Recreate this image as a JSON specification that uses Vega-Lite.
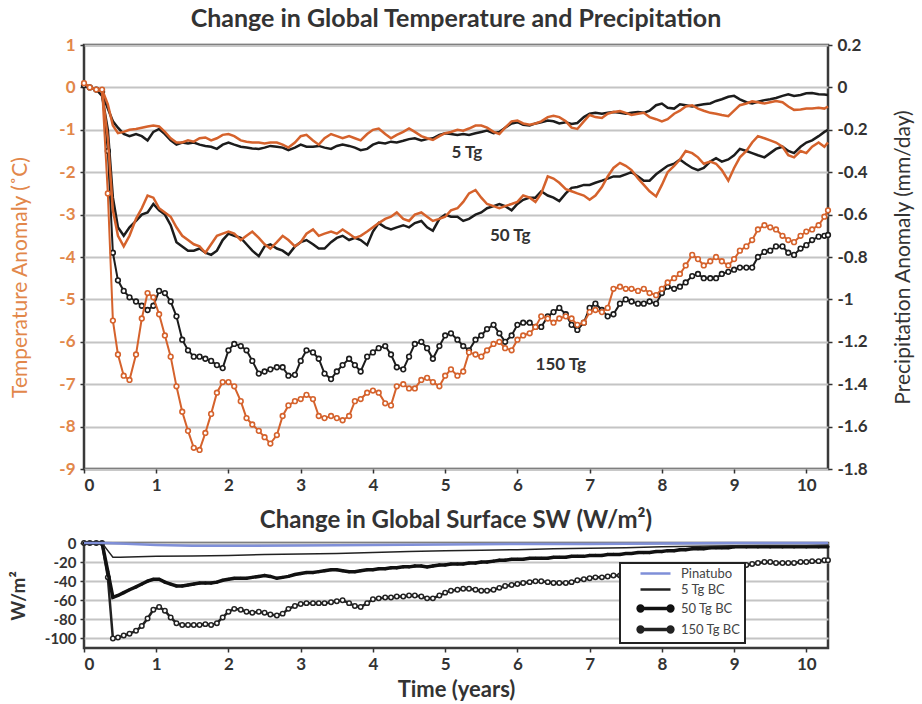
{
"$schema": "https://vega.github.io/schema/vega-lite/v6.json",
"background": "white",
"padding": {"left": 8, "top": 5, "right": 3, "bottom": 3},
"spacing": 12,
"config": {
 "font": "Lato",
 "view": {"stroke": "#3a3a3a", "strokeWidth": 2.5},
 "axis": {"labelFont": "Lato", "titleFont": "Lato", "domain": false, "tickColor": "#333", "tickSize": 4, "tickWidth": 1.5, "labelFontWeight": "bold", "labelFontSize": 16, "labelColor": "#333", "titleColor": "#333", "gridColor": "#c4c4c4", "gridWidth": 2},
 "title": {"font": "Lato", "fontWeight": "bold", "color": "#333"}
},
"datasets": {
 "T5": [{"t":0,"v":0.1},{"t":0.08,"v":0},{"t":0.17,"v":-0.05},{"t":0.25,"v":-0.05},{"t":0.33,"v":-0.4},{"t":0.4,"v":-0.9},{"t":0.47,"v":-1.08},{"t":0.55,"v":-1.05},{"t":0.63,"v":-1},{"t":0.72,"v":-0.98},{"t":0.8,"v":-0.95},{"t":0.88,"v":-0.92},{"t":0.96,"v":-0.9},{"t":1.04,"v":-0.92},{"t":1.12,"v":-1.05},{"t":1.2,"v":-1.2},{"t":1.28,"v":-1.3},{"t":1.36,"v":-1.3},{"t":1.44,"v":-1.25},{"t":1.52,"v":-1.28},{"t":1.6,"v":-1.2},{"t":1.68,"v":-1.18},{"t":1.76,"v":-1.25},{"t":1.84,"v":-1.2},{"t":1.92,"v":-1.12},{"t":2,"v":-1.1},{"t":2.08,"v":-1.15},{"t":2.17,"v":-1.25},{"t":2.25,"v":-1.28},{"t":2.33,"v":-1.3},{"t":2.42,"v":-1.3},{"t":2.5,"v":-1.32},{"t":2.58,"v":-1.3},{"t":2.67,"v":-1.3},{"t":2.75,"v":-1.35},{"t":2.83,"v":-1.42},{"t":2.92,"v":-1.3},{"t":3,"v":-1.15},{"t":3.08,"v":-1.12},{"t":3.17,"v":-1.25},{"t":3.25,"v":-1.35},{"t":3.33,"v":-1.2},{"t":3.42,"v":-1.1},{"t":3.5,"v":-1.15},{"t":3.58,"v":-1.2},{"t":3.67,"v":-1.15},{"t":3.75,"v":-1.2},{"t":3.83,"v":-1.25},{"t":3.92,"v":-1.1},{"t":4,"v":-1},{"t":4.08,"v":-0.97},{"t":4.17,"v":-1.1},{"t":4.25,"v":-1.2},{"t":4.33,"v":-1.12},{"t":4.42,"v":-1.05},{"t":4.5,"v":-0.97},{"t":4.58,"v":-1.05},{"t":4.67,"v":-1.15},{"t":4.75,"v":-1.2},{"t":4.83,"v":-1.24},{"t":4.92,"v":-1.15},{"t":5,"v":-1.08},{"t":5.08,"v":-1.05},{"t":5.17,"v":-1},{"t":5.25,"v":-1.02},{"t":5.33,"v":-0.97},{"t":5.42,"v":-0.9},{"t":5.5,"v":-0.9},{"t":5.58,"v":-0.95},{"t":5.67,"v":-1.05},{"t":5.75,"v":-1.1},{"t":5.83,"v":-0.95},{"t":5.92,"v":-0.8},{"t":6,"v":-0.78},{"t":6.08,"v":-0.85},{"t":6.17,"v":-0.88},{"t":6.25,"v":-0.85},{"t":6.33,"v":-0.8},{"t":6.42,"v":-0.7},{"t":6.5,"v":-0.67},{"t":6.58,"v":-0.7},{"t":6.67,"v":-0.8},{"t":6.75,"v":-0.95},{"t":6.83,"v":-0.98},{"t":6.92,"v":-0.8},{"t":7,"v":-0.65},{"t":7.08,"v":-0.7},{"t":7.17,"v":-0.72},{"t":7.25,"v":-0.62},{"t":7.33,"v":-0.58},{"t":7.42,"v":-0.56},{"t":7.5,"v":-0.6},{"t":7.58,"v":-0.65},{"t":7.67,"v":-0.62},{"t":7.75,"v":-0.6},{"t":7.83,"v":-0.7},{"t":7.92,"v":-0.75},{"t":8,"v":-0.8},{"t":8.08,"v":-0.75},{"t":8.17,"v":-0.62},{"t":8.25,"v":-0.55},{"t":8.33,"v":-0.45},{"t":8.42,"v":-0.42},{"t":8.5,"v":-0.5},{"t":8.58,"v":-0.55},{"t":8.67,"v":-0.6},{"t":8.75,"v":-0.62},{"t":8.83,"v":-0.65},{"t":8.92,"v":-0.68},{"t":9,"v":-0.55},{"t":9.08,"v":-0.42},{"t":9.17,"v":-0.38},{"t":9.25,"v":-0.33},{"t":9.33,"v":-0.35},{"t":9.42,"v":-0.38},{"t":9.5,"v":-0.35},{"t":9.58,"v":-0.32},{"t":9.67,"v":-0.35},{"t":9.75,"v":-0.45},{"t":9.83,"v":-0.53},{"t":9.92,"v":-0.52},{"t":10,"v":-0.5},{"t":10.08,"v":-0.5},{"t":10.17,"v":-0.48},{"t":10.25,"v":-0.5},{"t":10.3,"v":-0.45}],
 "T50": [{"t":0,"v":0.1},{"t":0.08,"v":0},{"t":0.17,"v":-0.05},{"t":0.25,"v":-0.1},{"t":0.33,"v":-1.2},{"t":0.4,"v":-2.9},{"t":0.47,"v":-3.5},{"t":0.55,"v":-3.75},{"t":0.63,"v":-3.5},{"t":0.72,"v":-3.1},{"t":0.8,"v":-2.85},{"t":0.88,"v":-2.55},{"t":0.96,"v":-2.6},{"t":1.04,"v":-2.85},{"t":1.12,"v":-2.95},{"t":1.2,"v":-3.05},{"t":1.28,"v":-3.3},{"t":1.36,"v":-3.5},{"t":1.44,"v":-3.6},{"t":1.52,"v":-3.7},{"t":1.6,"v":-3.75},{"t":1.68,"v":-3.9},{"t":1.76,"v":-3.7},{"t":1.84,"v":-3.5},{"t":1.92,"v":-3.45},{"t":2,"v":-3.4},{"t":2.08,"v":-3.45},{"t":2.17,"v":-3.6},{"t":2.25,"v":-3.5},{"t":2.33,"v":-3.4},{"t":2.42,"v":-3.55},{"t":2.5,"v":-3.7},{"t":2.58,"v":-3.8},{"t":2.67,"v":-3.65},{"t":2.75,"v":-3.5},{"t":2.83,"v":-3.6},{"t":2.92,"v":-3.75},{"t":3,"v":-3.65},{"t":3.08,"v":-3.45},{"t":3.17,"v":-3.35},{"t":3.25,"v":-3.5},{"t":3.33,"v":-3.45},{"t":3.42,"v":-3.4},{"t":3.5,"v":-3.45},{"t":3.58,"v":-3.35},{"t":3.67,"v":-3.45},{"t":3.75,"v":-3.55},{"t":3.83,"v":-3.5},{"t":3.92,"v":-3.4},{"t":4,"v":-3.3},{"t":4.08,"v":-3.2},{"t":4.17,"v":-3.1},{"t":4.25,"v":-3.05},{"t":4.33,"v":-2.95},{"t":4.42,"v":-3.1},{"t":4.5,"v":-3.15},{"t":4.58,"v":-3},{"t":4.67,"v":-2.95},{"t":4.75,"v":-3.05},{"t":4.83,"v":-3.15},{"t":4.92,"v":-3.1},{"t":5,"v":-3.05},{"t":5.08,"v":-2.9},{"t":5.17,"v":-2.85},{"t":5.25,"v":-2.7},{"t":5.33,"v":-2.5},{"t":5.42,"v":-2.42},{"t":5.5,"v":-2.6},{"t":5.58,"v":-2.75},{"t":5.67,"v":-2.8},{"t":5.75,"v":-2.85},{"t":5.83,"v":-2.8},{"t":5.92,"v":-2.75},{"t":6,"v":-2.7},{"t":6.08,"v":-2.55},{"t":6.17,"v":-2.6},{"t":6.25,"v":-2.7},{"t":6.33,"v":-2.5},{"t":6.42,"v":-2.1},{"t":6.5,"v":-2.15},{"t":6.58,"v":-2.25},{"t":6.67,"v":-2.4},{"t":6.75,"v":-2.45},{"t":6.83,"v":-2.5},{"t":6.92,"v":-2.55},{"t":7,"v":-2.65},{"t":7.08,"v":-2.55},{"t":7.17,"v":-2.35},{"t":7.25,"v":-2.1},{"t":7.33,"v":-1.9},{"t":7.42,"v":-1.78},{"t":7.5,"v":-1.85},{"t":7.58,"v":-1.95},{"t":7.67,"v":-2.15},{"t":7.75,"v":-2.3},{"t":7.83,"v":-2.45},{"t":7.92,"v":-2.57},{"t":8,"v":-2.3},{"t":8.08,"v":-2},{"t":8.17,"v":-1.85},{"t":8.25,"v":-1.7},{"t":8.33,"v":-1.5},{"t":8.42,"v":-1.55},{"t":8.5,"v":-1.65},{"t":8.58,"v":-1.8},{"t":8.67,"v":-1.75},{"t":8.75,"v":-1.8},{"t":8.83,"v":-1.95},{"t":8.92,"v":-2.2},{"t":9,"v":-1.9},{"t":9.08,"v":-1.65},{"t":9.17,"v":-1.5},{"t":9.25,"v":-1.3},{"t":9.33,"v":-1.15},{"t":9.42,"v":-1.2},{"t":9.5,"v":-1.25},{"t":9.58,"v":-1.3},{"t":9.67,"v":-1.4},{"t":9.75,"v":-1.6},{"t":9.83,"v":-1.65},{"t":9.92,"v":-1.5},{"t":10,"v":-1.55},{"t":10.08,"v":-1.4},{"t":10.17,"v":-1.3},{"t":10.25,"v":-1.4},{"t":10.3,"v":-1.3}],
 "T150": [{"t":0,"v":0.1},{"t":0.08,"v":0},{"t":0.17,"v":-0.05},{"t":0.25,"v":-0.05},{"t":0.33,"v":-2.5},{"t":0.4,"v":-5.5},{"t":0.47,"v":-6.3},{"t":0.55,"v":-6.8},{"t":0.63,"v":-6.9},{"t":0.72,"v":-6.3},{"t":0.8,"v":-5.45},{"t":0.88,"v":-4.85},{"t":0.96,"v":-4.95},{"t":1.04,"v":-5.35},{"t":1.12,"v":-5.85},{"t":1.2,"v":-6.35},{"t":1.28,"v":-7.05},{"t":1.36,"v":-7.65},{"t":1.44,"v":-8.1},{"t":1.52,"v":-8.5},{"t":1.6,"v":-8.55},{"t":1.68,"v":-8.15},{"t":1.76,"v":-7.7},{"t":1.84,"v":-7.2},{"t":1.92,"v":-6.95},{"t":2,"v":-6.95},{"t":2.08,"v":-7.05},{"t":2.17,"v":-7.4},{"t":2.25,"v":-7.8},{"t":2.33,"v":-7.95},{"t":2.42,"v":-8.1},{"t":2.5,"v":-8.25},{"t":2.58,"v":-8.4},{"t":2.67,"v":-8.2},{"t":2.75,"v":-7.75},{"t":2.83,"v":-7.5},{"t":2.92,"v":-7.4},{"t":3,"v":-7.35},{"t":3.08,"v":-7.25},{"t":3.17,"v":-7.35},{"t":3.25,"v":-7.75},{"t":3.33,"v":-7.8},{"t":3.42,"v":-7.75},{"t":3.5,"v":-7.8},{"t":3.58,"v":-7.85},{"t":3.67,"v":-7.75},{"t":3.75,"v":-7.4},{"t":3.83,"v":-7.35},{"t":3.92,"v":-7.2},{"t":4,"v":-7.15},{"t":4.08,"v":-7.2},{"t":4.17,"v":-7.45},{"t":4.25,"v":-7.5},{"t":4.33,"v":-7.05},{"t":4.42,"v":-7},{"t":4.5,"v":-7.1},{"t":4.58,"v":-7.1},{"t":4.67,"v":-6.9},{"t":4.75,"v":-6.85},{"t":4.83,"v":-6.95},{"t":4.92,"v":-7.05},{"t":5,"v":-6.8},{"t":5.08,"v":-6.65},{"t":5.17,"v":-6.8},{"t":5.25,"v":-6.7},{"t":5.33,"v":-6.25},{"t":5.42,"v":-6.3},{"t":5.5,"v":-6.35},{"t":5.58,"v":-6.2},{"t":5.67,"v":-6.05},{"t":5.75,"v":-6},{"t":5.83,"v":-6.15},{"t":5.92,"v":-6.2},{"t":6,"v":-5.95},{"t":6.08,"v":-5.85},{"t":6.17,"v":-5.8},{"t":6.25,"v":-5.65},{"t":6.33,"v":-5.4},{"t":6.42,"v":-5.45},{"t":6.5,"v":-5.55},{"t":6.58,"v":-5.45},{"t":6.67,"v":-5.4},{"t":6.75,"v":-5.45},{"t":6.83,"v":-5.6},{"t":6.92,"v":-5.55},{"t":7,"v":-5.3},{"t":7.08,"v":-5.25},{"t":7.17,"v":-5.3},{"t":7.25,"v":-5.2},{"t":7.33,"v":-4.75},{"t":7.42,"v":-4.7},{"t":7.5,"v":-4.75},{"t":7.58,"v":-4.75},{"t":7.67,"v":-4.8},{"t":7.75,"v":-4.75},{"t":7.83,"v":-4.85},{"t":7.92,"v":-4.9},{"t":8,"v":-4.75},{"t":8.08,"v":-4.6},{"t":8.17,"v":-4.5},{"t":8.25,"v":-4.4},{"t":8.33,"v":-4.2},{"t":8.42,"v":-3.95},{"t":8.5,"v":-4.05},{"t":8.58,"v":-4.2},{"t":8.67,"v":-4.1},{"t":8.75,"v":-4},{"t":8.83,"v":-4.1},{"t":8.92,"v":-4.2},{"t":9,"v":-4.05},{"t":9.08,"v":-3.85},{"t":9.17,"v":-3.75},{"t":9.25,"v":-3.6},{"t":9.33,"v":-3.35},{"t":9.42,"v":-3.25},{"t":9.5,"v":-3.3},{"t":9.58,"v":-3.35},{"t":9.67,"v":-3.5},{"t":9.75,"v":-3.6},{"t":9.83,"v":-3.65},{"t":9.92,"v":-3.5},{"t":10,"v":-3.4},{"t":10.08,"v":-3.35},{"t":10.17,"v":-3.25},{"t":10.25,"v":-3.05},{"t":10.3,"v":-2.9}],
 "P5": [{"t":0,"p":0.01},{"t":0.08,"p":0},{"t":0.17,"p":-0.01},{"t":0.25,"p":-0.03},{"t":0.33,"p":-0.1},{"t":0.4,"p":-0.16},{"t":0.47,"p":-0.19},{"t":0.55,"p":-0.22},{"t":0.63,"p":-0.23},{"t":0.72,"p":-0.22},{"t":0.8,"p":-0.23},{"t":0.88,"p":-0.25},{"t":0.96,"p":-0.21},{"t":1.04,"p":-0.196},{"t":1.12,"p":-0.22},{"t":1.2,"p":-0.25},{"t":1.28,"p":-0.27},{"t":1.36,"p":-0.26},{"t":1.44,"p":-0.264},{"t":1.52,"p":-0.26},{"t":1.6,"p":-0.27},{"t":1.68,"p":-0.276},{"t":1.76,"p":-0.28},{"t":1.84,"p":-0.29},{"t":1.92,"p":-0.27},{"t":2,"p":-0.26},{"t":2.08,"p":-0.27},{"t":2.17,"p":-0.28},{"t":2.25,"p":-0.284},{"t":2.33,"p":-0.288},{"t":2.42,"p":-0.29},{"t":2.5,"p":-0.284},{"t":2.58,"p":-0.276},{"t":2.67,"p":-0.28},{"t":2.75,"p":-0.284},{"t":2.83,"p":-0.296},{"t":2.92,"p":-0.284},{"t":3,"p":-0.27},{"t":3.08,"p":-0.28},{"t":3.17,"p":-0.28},{"t":3.25,"p":-0.276},{"t":3.33,"p":-0.284},{"t":3.42,"p":-0.29},{"t":3.5,"p":-0.276},{"t":3.58,"p":-0.27},{"t":3.67,"p":-0.276},{"t":3.75,"p":-0.284},{"t":3.83,"p":-0.296},{"t":3.92,"p":-0.29},{"t":4,"p":-0.27},{"t":4.08,"p":-0.26},{"t":4.17,"p":-0.264},{"t":4.25,"p":-0.256},{"t":4.33,"p":-0.26},{"t":4.42,"p":-0.252},{"t":4.5,"p":-0.244},{"t":4.58,"p":-0.24},{"t":4.67,"p":-0.25},{"t":4.75,"p":-0.244},{"t":4.83,"p":-0.24},{"t":4.92,"p":-0.224},{"t":5,"p":-0.216},{"t":5.08,"p":-0.22},{"t":5.17,"p":-0.224},{"t":5.25,"p":-0.22},{"t":5.33,"p":-0.224},{"t":5.42,"p":-0.216},{"t":5.5,"p":-0.21},{"t":5.58,"p":-0.204},{"t":5.67,"p":-0.216},{"t":5.75,"p":-0.21},{"t":5.83,"p":-0.19},{"t":5.92,"p":-0.17},{"t":6,"p":-0.164},{"t":6.08,"p":-0.176},{"t":6.17,"p":-0.18},{"t":6.25,"p":-0.17},{"t":6.33,"p":-0.164},{"t":6.42,"p":-0.156},{"t":6.5,"p":-0.16},{"t":6.58,"p":-0.17},{"t":6.67,"p":-0.164},{"t":6.75,"p":-0.172},{"t":6.83,"p":-0.168},{"t":6.92,"p":-0.14},{"t":7,"p":-0.124},{"t":7.08,"p":-0.12},{"t":7.17,"p":-0.124},{"t":7.25,"p":-0.12},{"t":7.33,"p":-0.116},{"t":7.42,"p":-0.12},{"t":7.5,"p":-0.124},{"t":7.58,"p":-0.12},{"t":7.67,"p":-0.116},{"t":7.75,"p":-0.12},{"t":7.83,"p":-0.11},{"t":7.92,"p":-0.084},{"t":8,"p":-0.076},{"t":8.08,"p":-0.096},{"t":8.17,"p":-0.1},{"t":8.25,"p":-0.08},{"t":8.33,"p":-0.084},{"t":8.42,"p":-0.09},{"t":8.5,"p":-0.084},{"t":8.58,"p":-0.08},{"t":8.67,"p":-0.076},{"t":8.75,"p":-0.064},{"t":8.83,"p":-0.056},{"t":8.92,"p":-0.044},{"t":9,"p":-0.04},{"t":9.08,"p":-0.056},{"t":9.17,"p":-0.07},{"t":9.25,"p":-0.076},{"t":9.33,"p":-0.068},{"t":9.42,"p":-0.06},{"t":9.5,"p":-0.056},{"t":9.58,"p":-0.05},{"t":9.67,"p":-0.04},{"t":9.75,"p":-0.032},{"t":9.83,"p":-0.04},{"t":9.92,"p":-0.036},{"t":10,"p":-0.028},{"t":10.08,"p":-0.026},{"t":10.17,"p":-0.032},{"t":10.25,"p":-0.034},{"t":10.3,"p":-0.036}],
 "P50": [{"t":0,"p":0.01},{"t":0.08,"p":0},{"t":0.17,"p":-0.01},{"t":0.25,"p":-0.04},{"t":0.33,"p":-0.2},{"t":0.4,"p":-0.52},{"t":0.47,"p":-0.66},{"t":0.55,"p":-0.7},{"t":0.63,"p":-0.66},{"t":0.72,"p":-0.63},{"t":0.8,"p":-0.6},{"t":0.88,"p":-0.59},{"t":0.96,"p":-0.55},{"t":1.04,"p":-0.58},{"t":1.12,"p":-0.6},{"t":1.2,"p":-0.65},{"t":1.28,"p":-0.73},{"t":1.36,"p":-0.75},{"t":1.44,"p":-0.77},{"t":1.52,"p":-0.77},{"t":1.6,"p":-0.76},{"t":1.68,"p":-0.78},{"t":1.76,"p":-0.79},{"t":1.84,"p":-0.77},{"t":1.92,"p":-0.72},{"t":2,"p":-0.69},{"t":2.08,"p":-0.7},{"t":2.17,"p":-0.71},{"t":2.25,"p":-0.74},{"t":2.33,"p":-0.77},{"t":2.42,"p":-0.796},{"t":2.5,"p":-0.75},{"t":2.58,"p":-0.74},{"t":2.67,"p":-0.76},{"t":2.75,"p":-0.77},{"t":2.83,"p":-0.79},{"t":2.92,"p":-0.75},{"t":3,"p":-0.73},{"t":3.08,"p":-0.72},{"t":3.17,"p":-0.74},{"t":3.25,"p":-0.76},{"t":3.33,"p":-0.76},{"t":3.42,"p":-0.73},{"t":3.5,"p":-0.71},{"t":3.58,"p":-0.7},{"t":3.67,"p":-0.72},{"t":3.75,"p":-0.71},{"t":3.83,"p":-0.72},{"t":3.92,"p":-0.744},{"t":4,"p":-0.68},{"t":4.08,"p":-0.64},{"t":4.17,"p":-0.66},{"t":4.25,"p":-0.67},{"t":4.33,"p":-0.66},{"t":4.42,"p":-0.65},{"t":4.5,"p":-0.66},{"t":4.58,"p":-0.64},{"t":4.67,"p":-0.63},{"t":4.75,"p":-0.66},{"t":4.83,"p":-0.676},{"t":4.92,"p":-0.62},{"t":5,"p":-0.6},{"t":5.08,"p":-0.61},{"t":5.17,"p":-0.61},{"t":5.25,"p":-0.63},{"t":5.33,"p":-0.62},{"t":5.42,"p":-0.6},{"t":5.5,"p":-0.59},{"t":5.58,"p":-0.57},{"t":5.67,"p":-0.56},{"t":5.75,"p":-0.55},{"t":5.83,"p":-0.56},{"t":5.92,"p":-0.58},{"t":6,"p":-0.55},{"t":6.08,"p":-0.53},{"t":6.17,"p":-0.52},{"t":6.25,"p":-0.52},{"t":6.33,"p":-0.49},{"t":6.42,"p":-0.51},{"t":6.5,"p":-0.52},{"t":6.58,"p":-0.536},{"t":6.67,"p":-0.5},{"t":6.75,"p":-0.474},{"t":6.83,"p":-0.47},{"t":6.92,"p":-0.46},{"t":7,"p":-0.46},{"t":7.08,"p":-0.45},{"t":7.17,"p":-0.44},{"t":7.25,"p":-0.43},{"t":7.33,"p":-0.42},{"t":7.42,"p":-0.42},{"t":7.5,"p":-0.41},{"t":7.58,"p":-0.4},{"t":7.67,"p":-0.42},{"t":7.75,"p":-0.44},{"t":7.83,"p":-0.44},{"t":7.92,"p":-0.41},{"t":8,"p":-0.39},{"t":8.08,"p":-0.37},{"t":8.17,"p":-0.36},{"t":8.25,"p":-0.34},{"t":8.33,"p":-0.36},{"t":8.42,"p":-0.38},{"t":8.5,"p":-0.39},{"t":8.58,"p":-0.38},{"t":8.67,"p":-0.35},{"t":8.75,"p":-0.334},{"t":8.83,"p":-0.35},{"t":8.92,"p":-0.34},{"t":9,"p":-0.32},{"t":9.08,"p":-0.29},{"t":9.17,"p":-0.3},{"t":9.25,"p":-0.31},{"t":9.33,"p":-0.32},{"t":9.42,"p":-0.33},{"t":9.5,"p":-0.31},{"t":9.58,"p":-0.29},{"t":9.67,"p":-0.28},{"t":9.75,"p":-0.3},{"t":9.83,"p":-0.31},{"t":9.92,"p":-0.28},{"t":10,"p":-0.26},{"t":10.08,"p":-0.25},{"t":10.17,"p":-0.23},{"t":10.25,"p":-0.21},{"t":10.3,"p":-0.2}],
 "P150": [{"t":0,"p":0.01},{"t":0.08,"p":0},{"t":0.17,"p":-0.01},{"t":0.25,"p":-0.02},{"t":0.33,"p":-0.3},{"t":0.4,"p":-0.78},{"t":0.47,"p":-0.91},{"t":0.55,"p":-0.96},{"t":0.63,"p":-0.99},{"t":0.72,"p":-1.01},{"t":0.8,"p":-1.03},{"t":0.88,"p":-1.05},{"t":0.96,"p":-1.03},{"t":1.04,"p":-0.96},{"t":1.12,"p":-0.97},{"t":1.2,"p":-1.01},{"t":1.28,"p":-1.08},{"t":1.36,"p":-1.19},{"t":1.44,"p":-1.24},{"t":1.52,"p":-1.27},{"t":1.6,"p":-1.27},{"t":1.68,"p":-1.28},{"t":1.76,"p":-1.29},{"t":1.84,"p":-1.31},{"t":1.92,"p":-1.324},{"t":2,"p":-1.24},{"t":2.08,"p":-1.21},{"t":2.17,"p":-1.22},{"t":2.25,"p":-1.24},{"t":2.33,"p":-1.29},{"t":2.42,"p":-1.35},{"t":2.5,"p":-1.34},{"t":2.58,"p":-1.33},{"t":2.67,"p":-1.32},{"t":2.75,"p":-1.32},{"t":2.83,"p":-1.36},{"t":2.92,"p":-1.356},{"t":3,"p":-1.29},{"t":3.08,"p":-1.24},{"t":3.17,"p":-1.25},{"t":3.25,"p":-1.28},{"t":3.33,"p":-1.35},{"t":3.42,"p":-1.376},{"t":3.5,"p":-1.34},{"t":3.58,"p":-1.31},{"t":3.67,"p":-1.28},{"t":3.75,"p":-1.31},{"t":3.83,"p":-1.34},{"t":3.92,"p":-1.27},{"t":4,"p":-1.25},{"t":4.08,"p":-1.23},{"t":4.17,"p":-1.22},{"t":4.25,"p":-1.26},{"t":4.33,"p":-1.32},{"t":4.42,"p":-1.33},{"t":4.5,"p":-1.27},{"t":4.58,"p":-1.21},{"t":4.67,"p":-1.2},{"t":4.75,"p":-1.23},{"t":4.83,"p":-1.28},{"t":4.92,"p":-1.22},{"t":5,"p":-1.17},{"t":5.08,"p":-1.16},{"t":5.17,"p":-1.19},{"t":5.25,"p":-1.22},{"t":5.33,"p":-1.24},{"t":5.42,"p":-1.19},{"t":5.5,"p":-1.17},{"t":5.58,"p":-1.14},{"t":5.67,"p":-1.12},{"t":5.75,"p":-1.16},{"t":5.83,"p":-1.2},{"t":5.92,"p":-1.17},{"t":6,"p":-1.12},{"t":6.08,"p":-1.11},{"t":6.17,"p":-1.11},{"t":6.25,"p":-1.13},{"t":6.33,"p":-1.13},{"t":6.42,"p":-1.08},{"t":6.5,"p":-1.06},{"t":6.58,"p":-1.04},{"t":6.67,"p":-1.07},{"t":6.75,"p":-1.12},{"t":6.83,"p":-1.144},{"t":6.92,"p":-1.11},{"t":7,"p":-1.04},{"t":7.08,"p":-1.02},{"t":7.17,"p":-1.05},{"t":7.25,"p":-1.08},{"t":7.33,"p":-1.07},{"t":7.42,"p":-1.02},{"t":7.5,"p":-1},{"t":7.58,"p":-1.01},{"t":7.67,"p":-1.02},{"t":7.75,"p":-1.02},{"t":7.83,"p":-1.01},{"t":7.92,"p":-1.02},{"t":8,"p":-0.97},{"t":8.08,"p":-0.94},{"t":8.17,"p":-0.95},{"t":8.25,"p":-0.94},{"t":8.33,"p":-0.92},{"t":8.42,"p":-0.89},{"t":8.5,"p":-0.88},{"t":8.58,"p":-0.9},{"t":8.67,"p":-0.9},{"t":8.75,"p":-0.9},{"t":8.83,"p":-0.88},{"t":8.92,"p":-0.87},{"t":9,"p":-0.86},{"t":9.08,"p":-0.85},{"t":9.17,"p":-0.85},{"t":9.25,"p":-0.85},{"t":9.33,"p":-0.8},{"t":9.42,"p":-0.776},{"t":9.5,"p":-0.77},{"t":9.58,"p":-0.75},{"t":9.67,"p":-0.75},{"t":9.75,"p":-0.78},{"t":9.83,"p":-0.79},{"t":9.92,"p":-0.76},{"t":10,"p":-0.744},{"t":10.08,"p":-0.72},{"t":10.17,"p":-0.704},{"t":10.25,"p":-0.7},{"t":10.3,"p":-0.696}],
 "Pin": [{"t":0,"w":0},{"t":0.3,"w":0},{"t":0.5,"w":-0.5},{"t":1,"w":-2},{"t":1.5,"w":-3},{"t":2,"w":-3},{"t":3,"w":-2.5},{"t":4,"w":-2},{"t":5,"w":-1.5},{"t":6,"w":-1},{"t":7,"w":-1},{"t":8,"w":-0.5},{"t":9,"w":0},{"t":10.3,"w":0}],
 "B5": [{"t":0,"w":0},{"t":0.25,"w":0},{"t":0.33,"w":-8},{"t":0.4,"w":-15},{"t":0.5,"w":-15},{"t":0.75,"w":-14.5},{"t":1,"w":-14},{"t":1.5,"w":-13.5},{"t":2,"w":-13},{"t":2.5,"w":-12},{"t":3,"w":-11.5},{"t":3.5,"w":-11},{"t":4,"w":-10},{"t":4.5,"w":-9},{"t":5,"w":-8},{"t":5.5,"w":-7.5},{"t":6,"w":-7},{"t":6.5,"w":-6},{"t":7,"w":-5.5},{"t":7.5,"w":-5},{"t":8,"w":-4},{"t":8.5,"w":-3.5},{"t":9,"w":-3},{"t":9.5,"w":-2.5},{"t":10,"w":-2.5},{"t":10.3,"w":-2}],
 "B50": [{"t":0,"w":0},{"t":0.08,"w":0},{"t":0.17,"w":0},{"t":0.25,"w":0},{"t":0.33,"w":-30},{"t":0.4,"w":-57},{"t":0.47,"w":-55},{"t":0.55,"w":-52},{"t":0.63,"w":-49},{"t":0.72,"w":-46},{"t":0.8,"w":-43},{"t":0.88,"w":-40},{"t":0.96,"w":-38},{"t":1.04,"w":-38},{"t":1.12,"w":-41},{"t":1.2,"w":-43},{"t":1.28,"w":-45},{"t":1.36,"w":-45},{"t":1.44,"w":-44},{"t":1.52,"w":-43},{"t":1.6,"w":-42},{"t":1.68,"w":-42},{"t":1.76,"w":-42},{"t":1.84,"w":-41},{"t":1.92,"w":-39},{"t":2,"w":-38},{"t":2.08,"w":-37},{"t":2.17,"w":-37},{"t":2.25,"w":-37},{"t":2.33,"w":-36},{"t":2.42,"w":-35},{"t":2.5,"w":-34},{"t":2.58,"w":-35},{"t":2.67,"w":-37},{"t":2.75,"w":-36},{"t":2.83,"w":-35},{"t":2.92,"w":-33},{"t":3,"w":-32},{"t":3.08,"w":-31},{"t":3.17,"w":-31},{"t":3.25,"w":-30},{"t":3.33,"w":-29},{"t":3.42,"w":-28},{"t":3.5,"w":-28},{"t":3.58,"w":-29},{"t":3.67,"w":-30},{"t":3.75,"w":-30},{"t":3.83,"w":-29},{"t":3.92,"w":-28},{"t":4,"w":-28},{"t":4.08,"w":-27},{"t":4.17,"w":-27},{"t":4.25,"w":-26},{"t":4.33,"w":-26},{"t":4.42,"w":-25},{"t":4.5,"w":-25},{"t":4.58,"w":-24},{"t":4.67,"w":-24},{"t":4.75,"w":-25},{"t":4.83,"w":-24},{"t":4.92,"w":-23},{"t":5,"w":-23},{"t":5.08,"w":-22},{"t":5.17,"w":-22},{"t":5.25,"w":-22},{"t":5.33,"w":-21},{"t":5.42,"w":-21},{"t":5.5,"w":-20},{"t":5.58,"w":-20},{"t":5.67,"w":-19},{"t":5.75,"w":-18},{"t":5.83,"w":-18},{"t":5.92,"w":-17},{"t":6,"w":-17},{"t":6.08,"w":-17},{"t":6.17,"w":-16},{"t":6.25,"w":-16},{"t":6.33,"w":-16},{"t":6.42,"w":-16},{"t":6.5,"w":-15},{"t":6.58,"w":-15},{"t":6.67,"w":-15},{"t":6.75,"w":-14},{"t":6.83,"w":-14},{"t":6.92,"w":-14},{"t":7,"w":-13},{"t":7.08,"w":-13},{"t":7.17,"w":-13},{"t":7.25,"w":-12},{"t":7.33,"w":-12},{"t":7.42,"w":-12},{"t":7.5,"w":-11},{"t":7.58,"w":-11},{"t":7.67,"w":-10},{"t":7.75,"w":-10},{"t":7.83,"w":-10},{"t":7.92,"w":-9},{"t":8,"w":-9},{"t":8.08,"w":-8},{"t":8.17,"w":-8},{"t":8.25,"w":-7},{"t":8.33,"w":-7},{"t":8.42,"w":-6},{"t":8.5,"w":-6},{"t":8.58,"w":-6},{"t":8.67,"w":-5},{"t":8.75,"w":-5},{"t":8.83,"w":-5},{"t":8.92,"w":-5},{"t":9,"w":-4},{"t":9.17,"w":-4},{"t":9.33,"w":-4},{"t":9.5,"w":-4},{"t":9.67,"w":-4},{"t":9.83,"w":-4},{"t":10,"w":-4},{"t":10.17,"w":-4},{"t":10.3,"w":-4}],
 "B150": [{"t":0,"w":0},{"t":0.08,"w":0},{"t":0.17,"w":0},{"t":0.25,"w":0},{"t":0.33,"w":-36},{"t":0.4,"w":-100},{"t":0.47,"w":-99},{"t":0.55,"w":-97},{"t":0.63,"w":-95},{"t":0.72,"w":-92},{"t":0.8,"w":-87},{"t":0.88,"w":-79},{"t":0.96,"w":-70},{"t":1.04,"w":-67},{"t":1.12,"w":-71},{"t":1.2,"w":-78},{"t":1.28,"w":-84},{"t":1.36,"w":-86},{"t":1.44,"w":-86},{"t":1.52,"w":-86},{"t":1.6,"w":-86},{"t":1.68,"w":-85},{"t":1.76,"w":-86},{"t":1.84,"w":-84},{"t":1.92,"w":-78},{"t":2,"w":-72},{"t":2.08,"w":-69},{"t":2.17,"w":-70},{"t":2.25,"w":-72},{"t":2.33,"w":-73},{"t":2.42,"w":-72},{"t":2.5,"w":-73},{"t":2.58,"w":-75},{"t":2.67,"w":-76},{"t":2.75,"w":-74},{"t":2.83,"w":-69},{"t":2.92,"w":-66},{"t":3,"w":-64},{"t":3.08,"w":-63},{"t":3.17,"w":-63},{"t":3.25,"w":-63},{"t":3.33,"w":-63},{"t":3.42,"w":-62},{"t":3.5,"w":-61},{"t":3.58,"w":-60},{"t":3.67,"w":-63},{"t":3.75,"w":-66},{"t":3.83,"w":-67},{"t":3.92,"w":-63},{"t":4,"w":-59},{"t":4.08,"w":-58},{"t":4.17,"w":-57},{"t":4.25,"w":-57},{"t":4.33,"w":-56},{"t":4.42,"w":-56},{"t":4.5,"w":-55},{"t":4.58,"w":-55},{"t":4.67,"w":-56},{"t":4.75,"w":-58},{"t":4.83,"w":-58},{"t":4.92,"w":-55},{"t":5,"w":-52},{"t":5.08,"w":-50},{"t":5.17,"w":-49},{"t":5.25,"w":-48},{"t":5.33,"w":-48},{"t":5.42,"w":-49},{"t":5.5,"w":-50},{"t":5.58,"w":-50},{"t":5.67,"w":-49},{"t":5.75,"w":-47},{"t":5.83,"w":-45},{"t":5.92,"w":-44},{"t":6,"w":-43},{"t":6.08,"w":-42},{"t":6.17,"w":-41},{"t":6.25,"w":-40},{"t":6.33,"w":-40},{"t":6.42,"w":-41},{"t":6.5,"w":-42},{"t":6.58,"w":-42},{"t":6.67,"w":-42},{"t":6.75,"w":-41},{"t":6.83,"w":-39},{"t":6.92,"w":-38},{"t":7,"w":-37},{"t":7.08,"w":-36},{"t":7.17,"w":-36},{"t":7.25,"w":-35},{"t":7.33,"w":-34},{"t":7.42,"w":-34},{"t":7.5,"w":-33},{"t":7.58,"w":-33},{"t":7.67,"w":-32},{"t":7.75,"w":-32},{"t":7.83,"w":-31},{"t":7.92,"w":-30},{"t":8,"w":-29},{"t":8.08,"w":-29},{"t":8.17,"w":-28},{"t":8.25,"w":-28},{"t":8.33,"w":-27},{"t":8.42,"w":-27},{"t":8.5,"w":-27},{"t":8.58,"w":-26},{"t":8.67,"w":-26},{"t":8.75,"w":-25},{"t":8.83,"w":-25},{"t":8.92,"w":-24},{"t":9,"w":-24},{"t":9.08,"w":-23},{"t":9.17,"w":-23},{"t":9.25,"w":-22},{"t":9.33,"w":-21},{"t":9.42,"w":-20},{"t":9.5,"w":-20},{"t":9.58,"w":-21},{"t":9.67,"w":-21},{"t":9.75,"w":-21},{"t":9.83,"w":-21},{"t":9.92,"w":-20},{"t":10,"w":-20},{"t":10.08,"w":-19},{"t":10.17,"w":-19},{"t":10.25,"w":-18},{"t":10.3,"w":-18}],
 "labels": [{"label":"5 Tg","t":5.3,"v":-1.55},{"label":"50 Tg","t":5.9,"v":-3.5},{"label":"150 Tg","t":6.6,"v":-6.55}]
},
"vconcat": [
 {
  "width": 744, "height": 424,
  "title": {"text": "Change in Global Temperature and Precipitation", "fontSize": 25, "offset": 4},
  "encoding": {"x": {"field": "t", "type": "quantitative", "scale": {"domain": [0, 10.3], "nice": false, "zero": false},
    "axis": {"title": null, "values": [0,1,2,3,4,5,6,7,8,9,10], "labelExpr": "toString(datum.value)", "labelFontSize": 17, "grid": false, "labelPadding": 4}}},
  "layer": [
   {
    "encoding": {"y": {"field": "p", "type": "quantitative", "scale": {"domain": [-1.8, 0.2], "nice": false, "zero": false},
      "axis": {"orient": "right", "title": "Precipitation Anomaly (mm/day)", "titleAngle": 270, "titleBaseline": "top", "titleFontSize": 21, "titleFontWeight": "normal", "titlePadding": 25, "grid": false, "values": [0.2,0,-0.2,-0.4,-0.6,-0.8,-1,-1.2,-1.4,-1.6,-1.8], "labelExpr": "toString(datum.value)", "labelFontSize": 17, "labelPadding": 5}}},
    "layer": [
     {"data": {"name": "P5"}, "mark": {"type": "line", "color": "#1c1c1c", "strokeWidth": 2.5}},
     {"data": {"name": "P50"}, "mark": {"type": "line", "color": "#1c1c1c", "strokeWidth": 2.5}},
     {"data": {"name": "P150"}, "mark": {"type": "line", "color": "#1c1c1c", "strokeWidth": 2, "point": {"filled": false, "fill": "#ffffff", "stroke": "#1c1c1c", "size": 22, "strokeWidth": 1.6}}}
    ]
   },
   {
    "encoding": {"y": {"field": "v", "type": "quantitative", "scale": {"domain": [-9, 1], "nice": false, "zero": false},
      "axis": {"orient": "left", "title": "Temperature Anomaly (˚C)", "titleFontSize": 21, "titleFontWeight": "normal", "titleColor": "#e2874a", "labelColor": "#e2874a", "titlePadding": 28, "titleY": 232, "grid": true, "values": [1,0,-1,-2,-3,-4,-5,-6,-7,-8,-9], "labelExpr": "toString(datum.value)", "labelFontSize": 17, "labelPadding": 5}}},
    "layer": [
     {"data": {"name": "T5"}, "mark": {"type": "line", "color": "#d5622c", "strokeWidth": 2.5}},
     {"data": {"name": "T50"}, "mark": {"type": "line", "color": "#d5622c", "strokeWidth": 2.5}},
     {"data": {"name": "T150"}, "mark": {"type": "line", "color": "#d5622c", "strokeWidth": 2, "point": {"filled": false, "fill": "#ffffff", "stroke": "#d5622c", "size": 22, "strokeWidth": 1.6}}},
     {"data": {"name": "labels"}, "mark": {"type": "text", "fontSize": 17, "fontWeight": "bold", "color": "#333"}, "encoding": {"text": {"field": "label"}}}
    ]
   }
  ],
  "resolve": {"scale": {"y": "independent"}, "axis": {"y": "independent"}}
 },
 {
  "width": 744, "height": 105,
  "title": {"text": "Change in Global Surface SW (W/m²)", "fontSize": 24, "offset": 3},
  "encoding": {
   "x": {"field": "t", "type": "quantitative", "scale": {"domain": [0, 10.3], "nice": false, "zero": false},
    "axis": {"title": "Time (years)", "titleFontSize": 22, "titleFontWeight": "bold", "values": [0,1,2,3,4,5,6,7,8,9,10], "labelExpr": "toString(datum.value)", "labelFontSize": 17, "grid": false, "labelPadding": 4, "titlePadding": 7}},
   "y": {"field": "w", "type": "quantitative", "scale": {"domain": [-110, 0], "nice": false, "zero": false},
    "axis": {"title": "W/m²", "titleFontSize": 19, "titleFontWeight": "bold", "values": [0,-20,-40,-60,-80,-100], "labelExpr": "toString(datum.value)", "labelFontSize": 15, "grid": true, "labelPadding": 4, "titlePadding": 16}}
  },
  "layer": [
   {"data": {"name": "B150"}, "mark": {"type": "line", "strokeWidth": 2.5, "point": {"filled": false, "fill": "#ffffff", "stroke": "#222", "size": 20, "strokeWidth": 1.5}},
    "encoding": {"color": {"datum": "150 Tg BC", "type": "nominal",
      "scale": {"domain": ["Pinatubo", "5 Tg BC", "50 Tg BC", "150 Tg BC"], "range": ["#7f8fd8", "#222222", "#111111", "#222222"]},
      "legend": {"orient": "none", "legendX": 536, "legendY": 518, "title": null, "fillColor": "white", "strokeColor": "#222", "padding": 4, "labelFontSize": 13, "labelColor": "#444", "labelFont": "Lato", "symbolSize": 64, "symbolOffset": 25, "labelOffset": 19, "rowPadding": 2,
        "encode": {"legend": {"update": {"strokeWidth": {"value": 2}}},
         "symbols": {"update": {
          "shape": {"signal": "datum.value === '50 Tg BC' || datum.value === '150 Tg BC' ? 'M-3.75,0H3.75M-4.35,0a0.6,0.6 0 1,0 1.2,0a0.6,0.6 0 1,0 -1.2,0M3.15,0a0.6,0.6 0 1,0 1.2,0a0.6,0.6 0 1,0 -1.2,0' : 'M-3.75,0H3.75'"},
          "fill": {"signal": "datum.value === '50 Tg BC' ? '#111111' : '#ffffff'"},
          "fillOpacity": {"value": 1},
          "strokeWidth": {"signal": "datum.value === '50 Tg BC' || datum.value === '150 Tg BC' ? 3.5 : 2.5"}}}}}}}},
   {"data": {"name": "B50"}, "mark": {"type": "line", "strokeWidth": 3.5, "point": {"filled": true, "size": 10}},
    "encoding": {"color": {"datum": "50 Tg BC", "type": "nominal"}}},
   {"data": {"name": "B5"}, "mark": {"type": "line", "strokeWidth": 1.5},
    "encoding": {"color": {"datum": "5 Tg BC", "type": "nominal"}}},
   {"data": {"name": "Pin"}, "mark": {"type": "line", "strokeWidth": 2.5},
    "encoding": {"color": {"datum": "Pinatubo", "type": "nominal"}}}
  ]
 }
]
}
